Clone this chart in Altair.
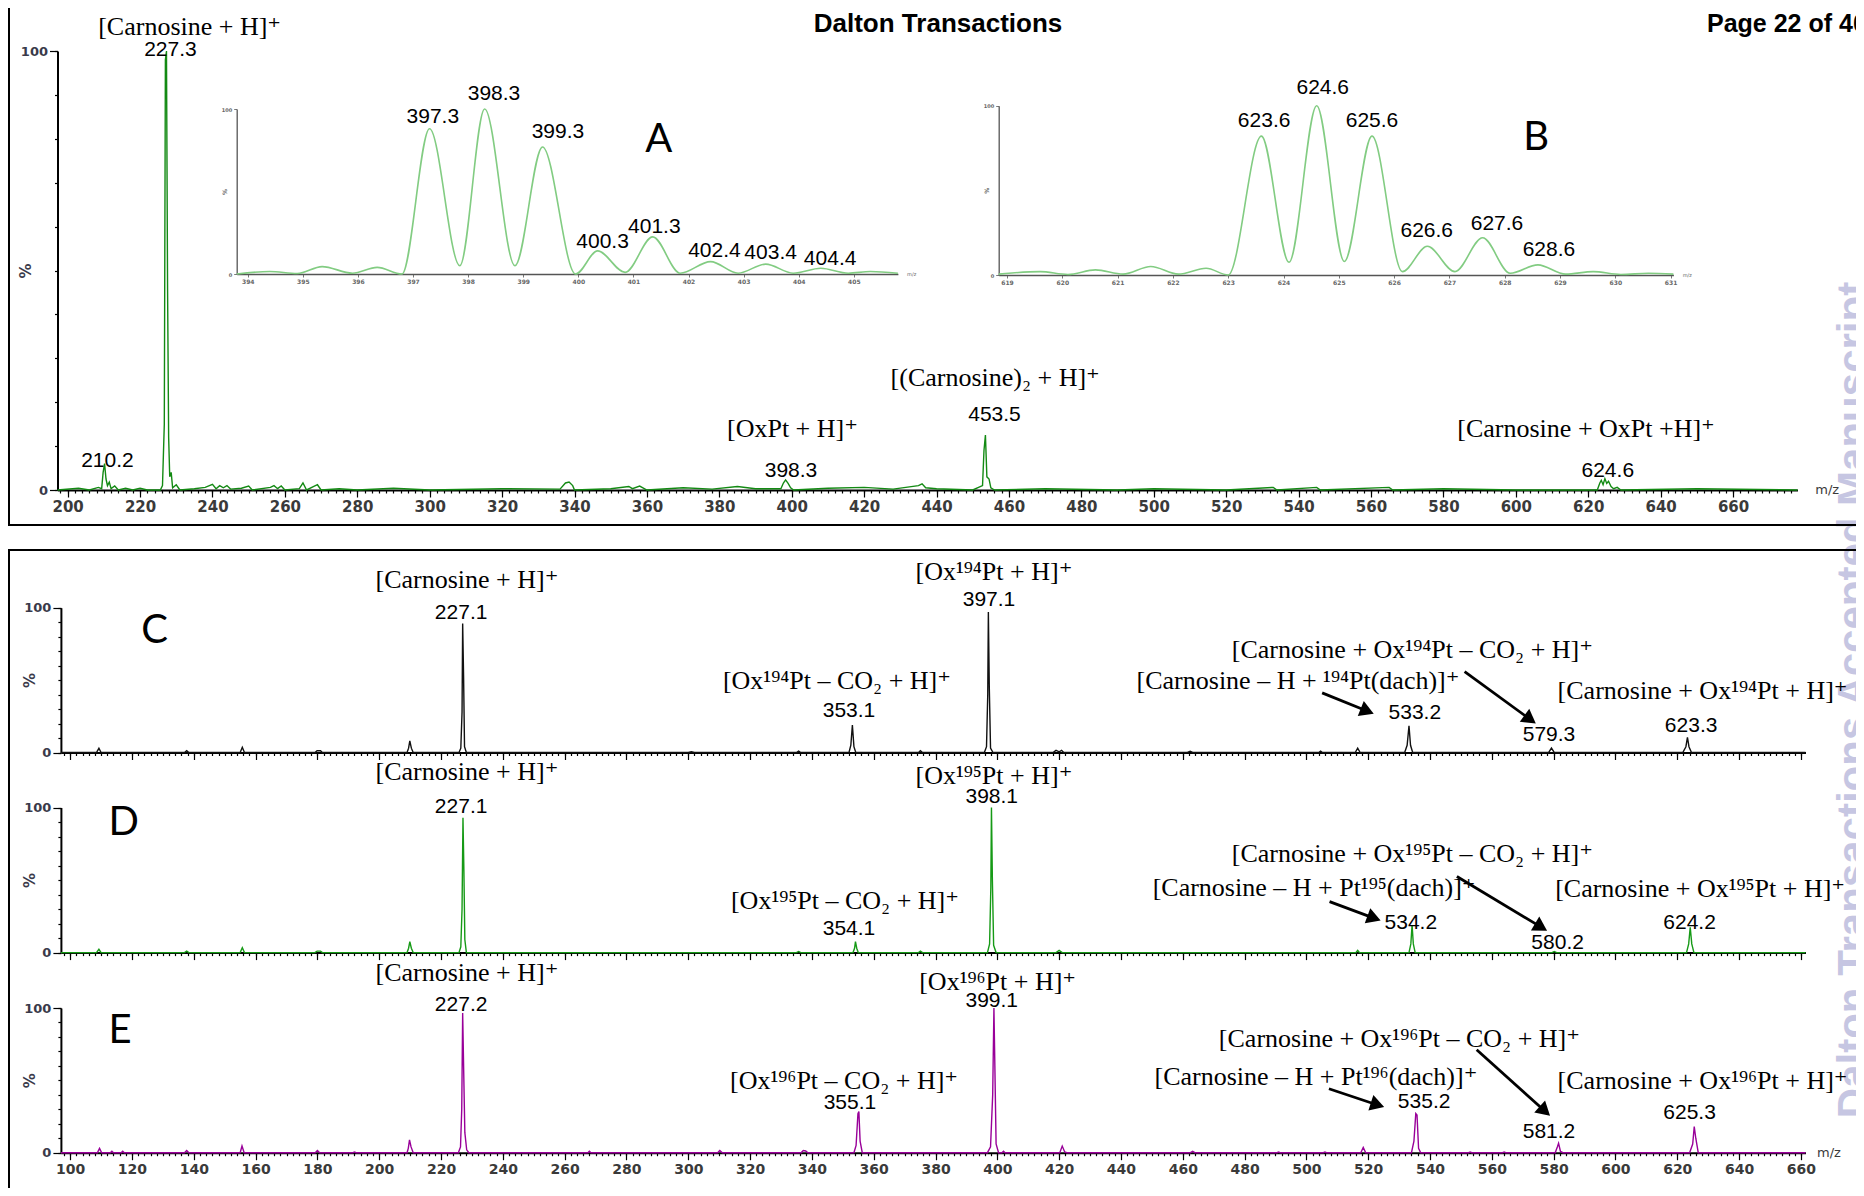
import altair as alt
import pandas as pd

W, H = 1848, 1180

SERIF = "Liberation Serif, Times New Roman, DejaVu Serif, serif"
SANS = "Liberation Sans, Arial, sans-serif"
AXF = "DejaVu Sans, Verdana, sans-serif"
LETTER = "Lato, Open Sans, sans-serif"

# ---------------- spectra: (m/z, relative intensity %) ----------------
TOP_SPECTRUM = [
    (197.2, 0), (203, 0.4), (206, 0), (208.5, 0.6), (209.4, 0.3), (209.8, 4), (210.2, 6), (210.6, 2.5),
    (211.0, 1), (211.5, 1.8), (212, 0.3), (213, 0.9), (214, 0), (216, 0.4), (218, 0), (220, 0.4), (222, 0),
    (225.6, 0), (226.2, 1), (226.7, 15), (227.0, 98), (227.3, 100), (227.6, 46), (227.9, 12), (228.2, 3),
    (228.6, 4), (229, 0.5), (230, 1.2), (231, 0), (235, 0.3), (238, 0.6), (240, 1.3), (241, 0.3), (242, 1),
    (243, 0.5), (244, 1), (245, 0.2), (248, 0.4), (250, 0.9), (251, 0), (256, 0.6), (257, 1), (258, 0.3),
    (259, 0.9), (260, 0), (264, 0.3), (265, 1.6), (266, 0), (268, 0.8), (269, 1.2), (270, 0), (275, 0.3),
    (280, 0), (290, 0.4), (300, 0), (320, 0.3), (336, 0.2), (337.5, 1.6), (338.5, 1.8), (339.5, 1), (340, 0),
    (350, 0.3), (355, 0.8), (356, 0.3), (358, 0.9), (360, 0), (370, 0.5), (378, 0.2), (385, 0.8), (390, 0.3),
    (397, 0.3), (397.7, 1.6), (398.3, 2.3), (399, 1.5), (399.7, 0.5), (400.5, 0), (410, 0.4), (420, 0.6),
    (428, 0.2), (435, 1), (436, 1.4), (437, 0.5), (440, 0.3), (450, 0), (452.7, 1), (453.1, 9), (453.5, 12.5),
    (453.9, 3), (454.5, 2.5), (455, 0.5), (456, 0), (470, 0.3), (490, 0), (500, 0.3), (520, 0), (533, 0.6),
    (534, 0), (545, 0.6), (546, 0), (565, 0.6), (566, 0), (580, 0.3), (600, 0), (622.5, 0), (623.2, 1.6),
    (623.6, 2.2), (624.1, 1.2), (624.6, 2.6), (625.1, 1.5), (625.6, 2), (626.3, 0.8), (627, 0.3), (628, 0.6),
    (629, 0), (650, 0.3), (677.8, 0),
]

INSET_A = [
    (393.8, 0), (394.4, 1.5), (394.9, 0.3), (395.35, 4.5), (395.9, 0.5), (396.35, 4), (396.8, 0),
    (397.3, 88), (397.85, 5), (398.3, 100), (398.85, 5), (399.35, 77), (399.95, 0), (400.35, 14),
    (400.85, 1), (401.35, 22.5), (401.85, 0.5), (402.4, 7.5), (402.9, 0.5), (403.4, 6), (403.9, 0.5),
    (404.4, 3.5), (404.9, 0.5), (405.3, 1.5), (405.8, 0.5),
]

INSET_B = [
    (618.85, 0.5), (619.6, 2), (620.1, 0.3), (620.6, 3), (621.1, 0.5), (621.6, 5), (622.1, 0.5),
    (622.6, 4), (623.0, 0), (623.6, 82), (624.1, 7.5), (624.6, 100), (625.1, 8), (625.6, 82),
    (626.15, 2), (626.6, 17), (627.1, 2), (627.6, 22), (628.1, 1), (628.6, 6), (629.1, 0.5),
    (629.6, 2), (630.1, 0.3), (630.6, 1), (631.05, 0.5),
]

SPEC_C = [
    (97, 0), (108.5, 0), (109.3, 2.9), (110, 0), (137, 0), (137.7, 1.3), (138.4, 0), (155, 0), (155.7, 3.6),
    (156.4, 0), (179.2, 0), (179.9, 1.2), (181, 1.2), (181.6, 0), (209, 0), (209.5, 3), (209.9, 8),
    (210.4, 3), (211, 0), (225.8, 0), (226.4, 3), (226.8, 28), (227.0, 89), (227.3, 52), (227.6, 4),
    (228.2, 0), (300, 0), (301, 0.5), (302, 0), (335, 0), (335.7, 1), (336.4, 0), (352, 0), (352.6, 5),
    (353.1, 19), (353.6, 4), (354.2, 0), (374.5, 0), (375.1, 1.2), (375.8, 0), (395.8, 0), (396.5, 4),
    (396.9, 40), (397.1, 97), (397.4, 45), (397.8, 3), (398.6, 0), (418, 0), (419, 1.5), (420, 0.5),
    (420.8, 1.5), (421.5, 0), (461.5, 0), (462.4, 0.8), (463.2, 0), (504, 0), (504.6, 1), (505.2, 0),
    (515.8, 0), (516.6, 3), (517.4, 0), (531.8, 0), (532.6, 5), (533.2, 18.5), (533.7, 5), (534.4, 0),
    (578.4, 0), (579.3, 3), (580.2, 0), (621.8, 0), (622.8, 4), (623.3, 10.5), (623.8, 4), (624.6, 0),
    (661.5, 0),
]

SPEC_D = [
    (97, 0), (108.5, 0), (109.3, 2.3), (110, 0), (137, 0), (137.7, 1), (138.4, 0), (155, 0), (155.7, 3.4),
    (156.4, 0), (179.2, 0), (179.9, 1), (181, 1), (181.6, 0), (209, 0), (209.5, 3), (209.9, 7.5),
    (210.4, 3), (211, 0), (225.8, 0), (226.4, 4), (226.8, 30), (227.1, 93), (227.4, 56), (227.7, 9),
    (228.2, 0), (335, 0), (335.7, 0.8), (336.4, 0), (353.3, 0), (353.8, 3), (354.1, 7.5), (354.5, 3),
    (355, 0), (374.5, 0), (375.1, 1), (375.8, 0), (396.8, 0), (397.5, 6), (397.9, 45), (398.1, 100),
    (398.4, 50), (398.8, 5), (399.6, 0), (419, 0), (420, 1.5), (421, 0), (516, 0), (516.6, 1.5), (517.2, 0),
    (533.2, 0), (533.8, 6), (534.2, 19), (534.6, 6), (535.2, 0), (579.5, 0), (580.2, 0.8), (581, 0),
    (623, 0), (623.7, 6), (624.2, 17.4), (624.7, 6), (625.4, 0), (661.5, 0),
]

SPEC_E = [
    (97, 0), (108.8, 0), (109.5, 3), (110.2, 0), (113, 0), (113.5, 1), (114, 0), (116.5, 0), (117, 1),
    (117.5, 0), (137, 0), (137.7, 1.5), (138.4, 0), (155, 0), (155.6, 4.6), (156.3, 0), (179.3, 0),
    (180, 1.5), (180.7, 0), (191.5, 0), (192, 0.5), (192.5, 0), (209, 0), (209.4, 3), (209.8, 8.8),
    (210.3, 4), (211, 0), (225.6, 0), (226.3, 4), (226.7, 30), (227.0, 96.5), (227.3, 60), (227.7, 14),
    (228.3, 2), (229, 0), (267.5, 0), (268, 1), (268.5, 0), (309.5, 0), (310.2, 1.5), (311, 0),
    (336.5, 0), (337.2, 1.5), (338, 1.2), (338.7, 0), (353.6, 0), (354.3, 5), (354.9, 27), (355.2, 28.4),
    (355.6, 8), (356.3, 0), (396.8, 0), (397.8, 4), (398.5, 40), (398.9, 100), (399.2, 60), (399.6, 6),
    (400.4, 0), (401.5, 0), (402, 1), (402.5, 0), (420.2, 0), (421, 4.6), (421.8, 0.5), (422.5, 0),
    (462.5, 0), (463.2, 1), (463.9, 0), (490.5, 0), (491, 0.5), (491.5, 0), (505.5, 0), (506, 0.5),
    (506.5, 0), (517.6, 0), (518.4, 3.7), (519.2, 0), (534, 0), (534.8, 8), (535.4, 27), (535.8, 26),
    (536.3, 3), (537, 0), (552.5, 0), (553, 0.5), (553.5, 0), (563.5, 0), (564, 0.5), (564.5, 0),
    (580.5, 0), (581.2, 4), (581.6, 6.5), (582.2, 1), (583, 0), (624, 0), (625, 6), (625.5, 18),
    (626, 10), (626.8, 0), (661.5, 0),
]

# ---------------- annotations: (m/z, %, text) ----------------
TOP_IONS = [
    (233.7, 105.5, "[Carnosine + H]⁺"),
    (400.2, 13.9, "[OxPt + H]⁺"),
    (456.2, 25.5, "[(Carnosine)₂ + H]⁺"),
    (619.4, 13.9, "[Carnosine + OxPt +H]⁺"),
]
TOP_PEAKS = [(228.4, 100.3, "227.3"), (211.0, 6.6, "210.2"), (399.8, 4.3, "398.3"),
             (456.0, 17.1, "453.5"), (625.4, 4.3, "624.6")]
A_PEAKS = [(397.36, 95.3, "397.3"), (398.47, 109.1, "398.3"), (399.63, 86.2, "399.3"),
           (400.44, 19.6, "400.3"), (401.38, 28.7, "401.3"), (402.47, 13.9, "402.4"),
           (403.49, 12.7, "403.4"), (404.57, 9.1, "404.4")]
B_PEAKS = [(623.65, 91.0, "623.6"), (624.71, 110.5, "624.6"), (625.60, 91.0, "625.6"),
           (626.59, 26.0, "626.6"), (627.86, 30.4, "627.6"), (628.80, 14.8, "628.6")]

C_IONS = [
    (228.4, 119.1, "[Carnosine + H]⁺"),
    (398.9, 124.7, "[Ox¹⁹⁴Pt + H]⁺"),
    (348.1, 49.4, "[Ox¹⁹⁴Pt – CO₂ + H]⁺"),
    (534.3, 70.8, "[Carnosine + Ox¹⁹⁴Pt – CO₂ + H]⁺"),
    (497.3, 49.4, "[Carnosine – H + ¹⁹⁴Pt(dach)]⁺"),
    (628.2, 42.5, "[Carnosine + Ox¹⁹⁴Pt + H]⁺"),
]
C_PEAKS = [(226.5, 96.0, "227.1"), (397.3, 105.0, "397.1"), (352.0, 28.7, "353.1"),
           (535.1, 27.3, "533.2"), (578.5, 12.1, "579.3"), (624.5, 18.0, "623.3")]

D_IONS = [
    (228.4, 124.8, "[Carnosine + H]⁺"),
    (398.9, 121.7, "[Ox¹⁹⁵Pt + H]⁺"),
    (350.7, 35.6, "[Ox¹⁹⁵Pt – CO₂ + H]⁺"),
    (534.3, 68.2, "[Carnosine + Ox¹⁹⁵Pt – CO₂ + H]⁺"),
    (502.5, 44.5, "[Carnosine – H + Pt¹⁹⁵(dach)]⁺"),
    (627.4, 43.8, "[Carnosine + Ox¹⁹⁵Pt + H]⁺"),
]
D_PEAKS = [(226.5, 100.3, "227.1"), (398.2, 107.5, "398.1"), (352.0, 16.5, "354.1"),
           (533.8, 20.7, "534.2"), (581.3, 6.6, "580.2"), (624.0, 20.7, "624.2")]

E_IONS = [
    (228.4, 124.5, "[Carnosine + H]⁺"),
    (400.1, 118.0, "[Ox¹⁹⁶Pt + H]⁺"),
    (350.4, 49.6, "[Ox¹⁹⁶Pt – CO₂ + H]⁺"),
    (530.1, 78.6, "[Carnosine + Ox¹⁹⁶Pt – CO₂ + H]⁺"),
    (503.1, 52.3, "[Carnosine – H + Pt¹⁹⁶(dach)]⁺"),
    (628.2, 49.6, "[Carnosine + Ox¹⁹⁶Pt + H]⁺"),
]
E_PEAKS = [(226.5, 102.3, "227.2"), (398.2, 104.8, "399.1"), (352.3, 34.3, "355.1"),
           (538.1, 35.0, "535.2"), (578.5, 14.3, "581.2"), (624.0, 27.4, "625.3")]

LETTERS = {"A": (401.46, 81.2), "B": (628.57, 80.9), "C": (127.3, 83.9),
           "D": (117.3, 89.3), "E": (116.1, 84.1)}

# arrows: (m/z start, % start, m/z end, % end, head angle in degrees)
C_ARROWS = [(505.1, 41.2, 519.0, 29.2, 112), (551.2, 55.8, 571.8, 23.8, 126)]
D_ARROWS = [(507.5, 35.1, 521.2, 24.3, 110), (548.7, 52.4, 575.3, 18.4, 121)]
E_ARROWS = [(507.3, 44.2, 522.3, 33.5, 108), (555.1, 71.2, 576.6, 29.8, 132)]

TOP_TICKS = list(range(200, 661, 20))
TOP_MINOR = list(range(198, 678, 2))
LOW_TICKS = list(range(100, 661, 20))
LOW_MINOR = list(range(98, 662, 2))
A_TICKS = list(range(394, 406))
B_TICKS = list(range(619, 632))
PCT_MAJOR = [0, 100]
PCT_MINOR = list(range(0, 101, 10))

# ---------------- layout of the panels (pixel ranges) ----------------
PANELS = {
    "top": dict(xdom=[197.2, 677.8], xrng=[49.5, 1789.5], yrng=[482, 43]),
    "A": dict(xdom=[393.8, 405.8], xrng=[228.7, 889.9], yrng=[266, 101]),
    "B": dict(xdom=[618.85, 631.05], xrng=[990.7, 1665.4], yrng=[267, 97.7]),
    "C": dict(xdom=[97, 661.5], xrng=[52.9, 1797.5], yrng=[744.5, 599.7]),
    "D": dict(xdom=[97, 661.5], xrng=[52.9, 1797.5], yrng=[944.6, 799.5]),
    "E": dict(xdom=[97, 661.5], xrng=[52.9, 1797.5], yrng=[1144.7, 1000]),
}


def sx(p):
    return alt.Scale(domain=PANELS[p]["xdom"], range=PANELS[p]["xrng"], nice=False, zero=False)


def sy(p):
    return alt.Scale(domain=[0, 100], range=PANELS[p]["yrng"], nice=False, zero=False)


def xaxis(p, values, labels=False, tick=6, size=14, domain=True, color="black", dw=2.0,
          lcolor="#3a3a3a", tw=1.2, pad=2):
    return alt.Axis(orient="bottom", offset=PANELS[p]["yrng"][0] - H, values=values, labels=labels,
                    domain=domain, format="d", labelFont=AXF, labelFontSize=size, labelFontWeight="bold",
                    labelColor=lcolor, labelPadding=pad, labelOverlap=False, labelFlush=False,
                    tickSize=tick, tickColor=color, tickWidth=tw, domainColor=color, domainWidth=dw,
                    grid=False, title=None)


def yaxis(p, values, labels=False, tick=7, size=12, domain=True, color="black", dw=2.0,
          lcolor="#3a3a4a", tw=1.2, title=None, tsize=12, tdx=-31):
    yr = PANELS[p]["yrng"]
    kw = dict(orient="left", offset=-PANELS[p]["xrng"][0], values=values, labels=labels,
              domain=domain, format="d", labelFont=AXF, labelFontSize=size, labelFontWeight="bold",
              labelColor=lcolor, labelPadding=2, labelOverlap=False, labelFlush=False,
              tickSize=tick, tickColor=color, tickWidth=tw, domainColor=color, domainWidth=dw,
              grid=False)
    if title:
        kw.update(title=title, titleX=tdx, titleY=(yr[0] + yr[1]) / 2, titleAngle=270,
                  titleFont=AXF, titleFontSize=tsize, titleFontWeight="bold", titleColor=lcolor,
                  titleAlign="center", titleBaseline="middle")
    else:
        kw.update(title=None)
    return alt.Axis(**kw)


def spectrum(p, pts, color, width, interp="linear", xa=None, ya=None, opacity=1.0):
    df = pd.DataFrame(pts, columns=["mz", "pct"])
    return alt.Chart(df).mark_line(color=color, strokeWidth=width, interpolate=interp,
                                   strokeOpacity=opacity).encode(
        x=alt.X("mz:Q", scale=sx(p), axis=xa),
        y=alt.Y("pct:Q", scale=sy(p), axis=ya),
    )


def texts(p, rows, font, size, weight="normal", color="black", align="center"):
    df = pd.DataFrame(rows, columns=["mz", "pct", "label"])
    return alt.Chart(df).mark_text(font=font, fontSize=size, fontWeight=weight, color=color,
                                   align=align, baseline="middle").encode(
        x=alt.X("mz:Q", scale=sx(p), axis=None),
        y=alt.Y("pct:Q", scale=sy(p), axis=None),
        text="label:N",
    )


def arrows(p, rows):
    df = pd.DataFrame(rows, columns=["mz", "pct", "mz2", "pct2", "angle"])
    shaft = alt.Chart(df).mark_rule(color="black", strokeWidth=2.8).encode(
        x=alt.X("mz:Q", scale=sx(p), axis=None),
        y=alt.Y("pct:Q", scale=sy(p), axis=None),
        x2="mz2:Q", y2="pct2:Q",
    )
    head = alt.Chart(df).mark_point(shape="triangle", filled=True, color="black", size=260,
                                    opacity=1).encode(
        x=alt.X("mz2:Q", scale=sx(p), axis=None),
        y=alt.Y("pct2:Q", scale=sy(p), axis=None),
        angle=alt.Angle("angle:Q", scale=None),
    )
    return [shaft, head]


one = pd.DataFrame({"t": ["Dalton Transactions Accepted Manuscript"]})
watermark = alt.Chart(one).mark_text(angle=270, fontSize=42, fontWeight="bold", font=SANS,
                                     color="#c6c6e2", align="center", baseline="alphabetic").encode(
    x=alt.value(1859), y=alt.value(692), text="t:N")

dummy = pd.DataFrame({"k": [0]})
frame_top = alt.Chart(dummy).mark_rect(fillOpacity=0, stroke="black", strokeWidth=2).encode(
    x=alt.value(1), x2=alt.value(2200), y=alt.value(-20), y2=alt.value(517))
frame_bot = alt.Chart(dummy).mark_rect(fillOpacity=0, stroke="black", strokeWidth=2).encode(
    x=alt.value(1), x2=alt.value(2200), y=alt.value(542), y2=alt.value(1500))

hdr1 = alt.Chart(pd.DataFrame({"t": ["Dalton Transactions"]})).mark_text(
    font=SANS, fontSize=26, fontWeight="bold", color="black", align="center", baseline="middle").encode(
    x=alt.value(930), y=alt.value(16), text="t:N")
hdr2 = alt.Chart(pd.DataFrame({"t": ["Page 22 of 40"]})).mark_text(
    font=SANS, fontSize=25, fontWeight="bold", color="black", align="left", baseline="middle").encode(
    x=alt.value(1699), y=alt.value(16), text="t:N")

layers = [watermark, frame_top, frame_bot, hdr1, hdr2]

# ---- top survey spectrum ----
GREEN = "#138a13"
layers.append(spectrum("top", TOP_SPECTRUM, GREEN, 0, opacity=0,
                       xa=xaxis("top", TOP_MINOR, tick=3, domain=False),
                       ya=yaxis("top", PCT_MINOR, tick=3, domain=False)))
layers.append(spectrum("top", TOP_SPECTRUM, GREEN, 1.4,
                       xa=xaxis("top", TOP_TICKS, labels=True, tick=7, size=15),
                       ya=yaxis("top", PCT_MAJOR, labels=True, tick=8, size=13, title="%",
                                tsize=15, tdx=-32)))
layers.append(texts("top", TOP_IONS, SERIF, 26))
layers.append(texts("top", TOP_PEAKS, SANS, 21))
layers.append(texts("top", [(686, 0, "m/z")], AXF, 13, color="#3a3a3a"))

# ---- insets A and B ----
INSET = "#82cc82"
for p, pts, ticks, pk in (("A", INSET_A, A_TICKS, A_PEAKS), ("B", INSET_B, B_TICKS, B_PEAKS)):
    layers.append(spectrum(p, pts, INSET, 1.6, interp="monotone",
                           xa=xaxis(p, ticks, labels=True, tick=3, size=6, color="#555555", dw=1.3,
                                    lcolor="#666666", tw=0.8, pad=1),
                           ya=yaxis(p, PCT_MAJOR, labels=True, tick=3, size=5, color="#555555", dw=1.3,
                                    lcolor="#666666", tw=0.8, title="%", tsize=6, tdx=-12)))
    layers.append(texts(p, pk, SANS, 21))
    layers.append(texts(p, [(LETTERS[p][0], LETTERS[p][1], p)], LETTER, 40))
layers.append(texts("A", [(406.05, 0, "m/z")], AXF, 5, color="#666666"))
layers.append(texts("B", [(631.3, 0, "m/z")], AXF, 5, color="#666666"))

# ---- panels C, D, E ----
for p, pts, color, ions, peaks, arr in (
        ("C", SPEC_C, "#111111", C_IONS, C_PEAKS, C_ARROWS),
        ("D", SPEC_D, "#169a16", D_IONS, D_PEAKS, D_ARROWS),
        ("E", SPEC_E, "#990099", E_IONS, E_PEAKS, E_ARROWS)):
    layers.append(spectrum(p, pts, color, 0, opacity=0,
                           xa=xaxis(p, LOW_MINOR, tick=3, domain=False),
                           ya=yaxis(p, PCT_MINOR, tick=3, domain=False)))
    layers.append(spectrum(p, pts, color, 1.4,
                           xa=xaxis(p, LOW_TICKS, labels=(p == "E"), tick=7, size=14, pad=3),
                           ya=yaxis(p, PCT_MAJOR, labels=True, tick=8, size=13, title="%",
                                    tsize=15, tdx=-31)))
    layers.append(texts(p, ions, SERIF, 26))
    layers.append(texts(p, peaks, SANS, 21))
    layers.append(texts(p, [(LETTERS[p][0], LETTERS[p][1], p)], LETTER, 40))
    layers.extend(arrows(p, arr))
layers.append(texts("E", [(669.1, 0, "m/z")], AXF, 13, color="#3a3a3a"))

chart = alt.layer(*layers).properties(
    width=W, height=H, autosize=alt.AutoSizeParams(type="none"), padding=0
).resolve_scale(x="independent", y="independent").resolve_axis(
    x="independent", y="independent"
).configure_view(stroke=None)

chart.save("out.html", embed_options={"renderer": "svg", "actions": False})
